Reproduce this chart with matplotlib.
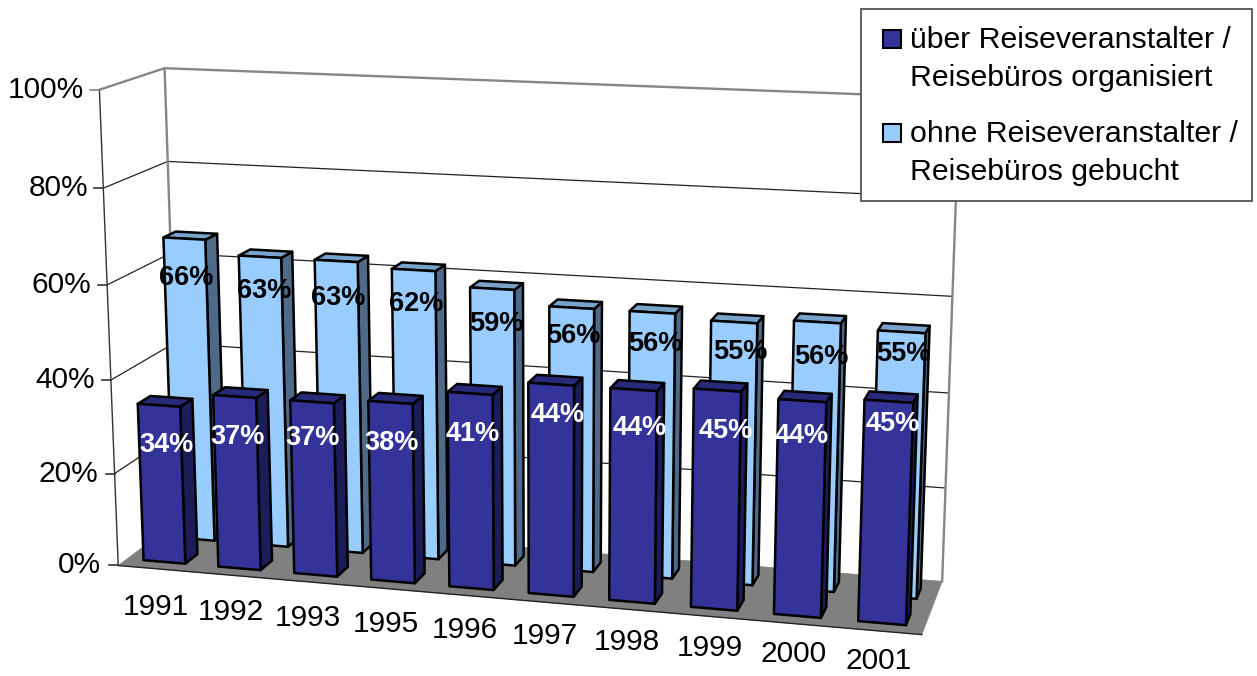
import numpy as np
import matplotlib
matplotlib.use("Agg")
import matplotlib.pyplot as plt
from matplotlib.patches import Polygon, Rectangle

plt.rcParams["font.family"] = ["Liberation Sans", "DejaVu Sans"]

jahre = ["1991", "1992", "1993", "1995", "1996", "1997", "1998", "1999", "2000", "2001"]
organisiert = [34, 37, 37, 38, 41, 44, 44, 45, 44, 45]
gebucht = [66, 63, 63, 62, 59, 56, 56, 55, 56, 55]
ticks = [0, 20, 40, 60, 80, 100]
legende = ["über Reiseveranstalter /\nReisebüros organisiert",
           "ohne Reiseveranstalter /\nReisebüros gebucht"]

# label offsets from the centre of the bar front top, in pixels
shift_org = [(8, 40), (3, 40), (1, 36), (1, 41), (3, 41), (7, 31), (6, 38), (8, 41), (-1, 35), (4, 23)]
shift_geb = [(2, 39), (4, 34), (2, 37), (3, 34), (4, 35), (2, 28), (3, 32), (6, 30), (4, 35), (2, 22)]

# camera: cube corners (x, depth, z) to picture pixels
cube = [(0, 0, 0), (1, 0, 0), (1, 1, 0), (0, 1, 0), (0, 0, 1), (1, 0, 1), (1, 1, 1), (0, 1, 1)]
bild = [(117, 565), (922, 634), (942, 582), (181, 520), (100, 90), (940, 124), (959, 97), (164, 68)]

A = []
b = []
for (x, d, z), (u, v) in zip(cube, bild):
    A.append([x, d, z, 1, 0, 0, 0, 0, -u * x, -u * d, -u * z])
    A.append([0, 0, 0, 0, x, d, z, 1, -v * x, -v * d, -v * z])
    b += [u, v]
cam = np.linalg.lstsq(np.array(A, float), np.array(b, float), rcond=None)[0]


def proj(x, d, z):
    w = cam[8] * x + cam[9] * d + cam[10] * z + 1
    return ((cam[0] * x + cam[1] * d + cam[2] * z + cam[3]) / w,
            (cam[4] * x + cam[5] * d + cam[6] * z + cam[7]) / w)


def saeule(ax, i, wert, d0, d1, farben, zo):
    x0 = (i + 0.22) / 10
    x1 = (i + 0.78) / 10
    z = wert / 100
    top = [proj(x0, d0, z), proj(x1, d0, z), proj(x1, d1, z), proj(x0, d1, z)]
    seite = [proj(x1, d0, 0), proj(x1, d1, 0), proj(x1, d1, z), proj(x1, d0, z)]
    front = [proj(x0, d0, 0), proj(x1, d0, 0), proj(x1, d0, z), proj(x0, d0, z)]
    for pts, farbe in zip([seite, top, front], farben):
        ax.add_patch(Polygon(pts, closed=True, facecolor=farbe, edgecolor="black",
                             linewidth=1.8, joinstyle="round", zorder=zo))
    return proj((x0 + x1) / 2, d0, z)


fig = plt.figure(figsize=(12.57, 6.76), dpi=100)
ax = fig.add_axes([0, 0, 1, 1])
ax.set_xlim(0, 1257)
ax.set_ylim(676, 0)
ax.axis("off")

# floor
ax.add_patch(Polygon([proj(0, 0, 0), proj(1, 0, 0), proj(1, 1, 0), proj(0, 1, 0)],
                     closed=True, facecolor="#808080", edgecolor="#808080", linewidth=0.5))
ax.plot(*zip(proj(0, 0, 0), proj(1, 0, 0)), color="#222222", linewidth=1.0)

# grid on side wall and back wall
for t in ticks[1:-1]:
    z = t / 100
    ax.plot(*zip(proj(0, 0, z), proj(0, 1, z), proj(1, 1, z)), color="#222222", linewidth=0.9)

grau = "#868686"
ax.plot(*zip(proj(0, 0, 1), proj(0, 1, 1), proj(1, 1, 1), proj(1, 1, 0)), color=grau, linewidth=1.7)
ax.plot(*zip(proj(0, 1, 0), proj(0, 1, 1)), color=grau, linewidth=1.7)
ax.plot(*zip(proj(0, 0, 0), proj(0, 0, 1)), color="#333333", linewidth=1.0)

# y axis ticks and labels
for t in ticks:
    u, v = proj(0, 0, t / 100)
    ax.plot([u - 9, u], [v, v], color=grau if t == 100 else "#333333", linewidth=1.2)
    ax.text(100 - 15 + (u - 100) * 0.9, v, f"{t}%", ha="right", va="center", fontsize=21.5, color="black")

# bars, back row first
koepfe_geb = [saeule(ax, i, w, 0.63, 0.83, ["#4f6a88", "#7aa3cc", "#99ccff"], 3) for i, w in enumerate(gebucht)]
koepfe_org = [saeule(ax, i, w, 0.14, 0.34, ["#1c1c58", "#29297a", "#333399"], 4) for i, w in enumerate(organisiert)]

for i, jahr in enumerate(jahre):
    u, v = proj((i + 0.5) / 10, 0, 0)
    ax.text(u, v + 38 - 0.9 * i, jahr, ha="center", va="center", fontsize=21.5, color="black")

for (u, v), (dx, dy), w in zip(koepfe_geb, shift_geb, gebucht):
    ax.text(u + dx, v + dy, f"{w}%", ha="center", va="center", fontsize=19.5,
            fontweight="bold", color="black", zorder=5)
for (u, v), (dx, dy), w in zip(koepfe_org, shift_org, organisiert):
    ax.text(u + dx, v + dy, f"{w}%", ha="center", va="center", fontsize=19.5,
            fontweight="bold", color="white", zorder=5)

# legend
ax.add_patch(Rectangle((861, 9), 391, 192, facecolor="white", edgecolor="#555555", linewidth=1.3, zorder=6))
for y, farbe, text in zip([39, 133], ["#333399", "#99ccff"], legende):
    ax.add_patch(Rectangle((883, y - 9), 18, 18, facecolor=farbe, edgecolor="black", linewidth=1.5, zorder=7))
    ax.text(910, y + 20, text, ha="left", va="center", fontsize=21.8, color="black",
            linespacing=1.45, zorder=7)

fig.savefig("out.png", dpi=100)
